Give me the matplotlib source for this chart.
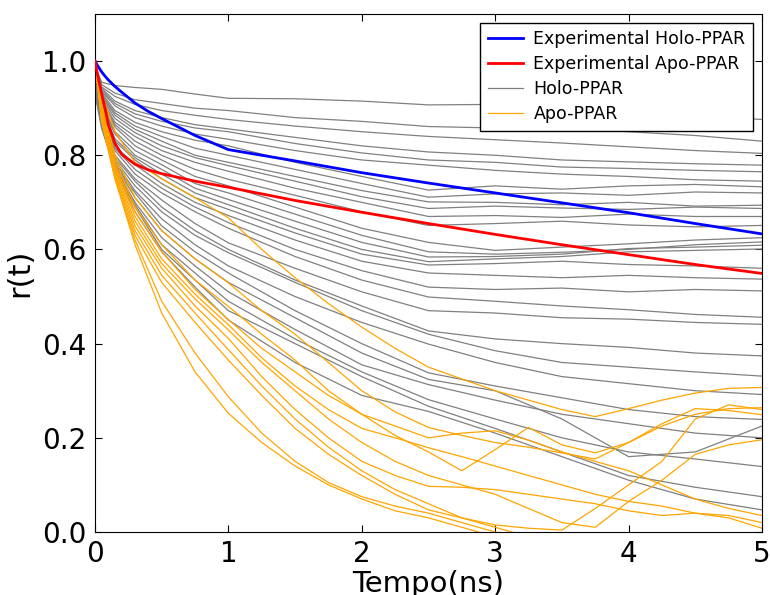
"""Fluorescence anisotropy decay r(t): experimental fits vs. simulated Holo/Apo-PPAR traces."""
import matplotlib
matplotlib.use("Agg")
import matplotlib.pyplot as plt

# time grids (ns)
T_EXP = [0, 0.02, 0.05, 0.075, 0.1, 0.15, 0.2, 0.3, 0.4, 0.5, 0.75, 1, 1.5, 2, 2.5, 3, 3.5, 4, 4.5, 5]
T_HOLO = [0, 0.05, 0.15, 0.3, 0.5, 0.75, 1, 1.5, 2, 2.5, 3, 3.5, 4, 4.5, 5]
T_APO = [0, 0.05, 0.15, 0.3, 0.5, 0.75, 1, 1.25, 1.5, 1.75, 2, 2.25, 2.5, 2.75,
         3, 3.25, 3.5, 3.75, 4, 4.25, 4.5, 4.75, 5]

exp_holo = [1.0, 0.99, 0.977, 0.968, 0.96, 0.946, 0.934, 0.911, 0.893, 0.878,
            0.842, 0.812, 0.788, 0.763, 0.741, 0.72, 0.699, 0.678, 0.655, 0.633]
exp_apo = [1.0, 0.97, 0.93, 0.90, 0.865, 0.825, 0.802, 0.781, 0.769, 0.761,
           0.745, 0.732, 0.704, 0.679, 0.655, 0.632, 0.61, 0.589, 0.568, 0.549]

holo_runs = [
    [0.99, 0.955, 0.948, 0.944, 0.940, 0.930, 0.921, 0.920, 0.915, 0.907, 0.908, 0.900, 0.893, 0.884, 0.876],
    [0.99, 0.95, 0.932, 0.918, 0.910, 0.900, 0.895, 0.880, 0.872, 0.861, 0.858, 0.860, 0.850, 0.842, 0.830],
    [0.99, 0.945, 0.925, 0.908, 0.895, 0.885, 0.876, 0.862, 0.850, 0.840, 0.833, 0.826, 0.818, 0.810, 0.804],
    [0.985, 0.942, 0.915, 0.895, 0.880, 0.865, 0.856, 0.838, 0.820, 0.807, 0.800, 0.790, 0.786, 0.782, 0.779],
    [0.985, 0.938, 0.91, 0.888, 0.872, 0.858, 0.850, 0.825, 0.805, 0.790, 0.785, 0.775, 0.772, 0.768, 0.765],
    [0.98, 0.935, 0.905, 0.88, 0.862, 0.845, 0.834, 0.81, 0.79, 0.779, 0.768, 0.760, 0.755, 0.748, 0.745],
    [0.98, 0.932, 0.895, 0.87, 0.85, 0.832, 0.82, 0.785, 0.755, 0.726, 0.735, 0.728, 0.735, 0.738, 0.733],
    [0.98, 0.928, 0.89, 0.862, 0.84, 0.815, 0.80, 0.77, 0.74, 0.711, 0.718, 0.72, 0.715, 0.722, 0.72],
    [0.975, 0.925, 0.885, 0.855, 0.83, 0.80, 0.785, 0.755, 0.725, 0.701, 0.70, 0.695, 0.70, 0.692, 0.694],
    [0.975, 0.922, 0.878, 0.848, 0.82, 0.795, 0.778, 0.745, 0.712, 0.687, 0.692, 0.688, 0.685, 0.69, 0.687],
    [0.97, 0.918, 0.87, 0.84, 0.81, 0.785, 0.766, 0.73, 0.70, 0.67, 0.672, 0.668, 0.675, 0.67, 0.67],
    [0.97, 0.915, 0.865, 0.83, 0.80, 0.77, 0.749, 0.715, 0.68, 0.651, 0.655, 0.66, 0.652, 0.648, 0.651],
    [0.97, 0.912, 0.86, 0.82, 0.79, 0.755, 0.735, 0.69, 0.645, 0.615, 0.598, 0.605, 0.612, 0.62, 0.625],
    [0.965, 0.908, 0.85, 0.81, 0.78, 0.74, 0.72, 0.675, 0.63, 0.595, 0.59, 0.594, 0.60, 0.61, 0.616],
    [0.965, 0.905, 0.845, 0.80, 0.77, 0.73, 0.706, 0.66, 0.615, 0.584, 0.585, 0.59, 0.602, 0.605, 0.609],
    [0.96, 0.902, 0.835, 0.795, 0.76, 0.72, 0.695, 0.645, 0.60, 0.574, 0.58, 0.585, 0.595, 0.598, 0.601],
    [0.96, 0.898, 0.83, 0.79, 0.75, 0.71, 0.685, 0.635, 0.59, 0.567, 0.57, 0.575, 0.568, 0.565, 0.56],
    [0.96, 0.895, 0.82, 0.78, 0.74, 0.70, 0.672, 0.62, 0.575, 0.55, 0.545, 0.54, 0.545, 0.54, 0.537],
    [0.955, 0.892, 0.815, 0.77, 0.73, 0.69, 0.657, 0.60, 0.555, 0.52, 0.515, 0.518, 0.51, 0.515, 0.512],
    [0.955, 0.89, 0.81, 0.76, 0.72, 0.68, 0.645, 0.585, 0.535, 0.499, 0.49, 0.48, 0.472, 0.462, 0.456],
    [0.95, 0.886, 0.80, 0.75, 0.705, 0.655, 0.614, 0.56, 0.51, 0.47, 0.465, 0.455, 0.452, 0.445, 0.441],
    [0.95, 0.883, 0.795, 0.745, 0.69, 0.64, 0.60, 0.535, 0.48, 0.427, 0.41, 0.40, 0.392, 0.38, 0.374],
    [0.95, 0.88, 0.79, 0.735, 0.68, 0.63, 0.593, 0.53, 0.47, 0.42, 0.385, 0.36, 0.35, 0.34, 0.331],
    [0.945, 0.877, 0.785, 0.725, 0.665, 0.61, 0.565, 0.50, 0.445, 0.399, 0.36, 0.33, 0.315, 0.30, 0.292],
    [0.945, 0.874, 0.78, 0.72, 0.65, 0.595, 0.55, 0.47, 0.40, 0.338, 0.31, 0.285, 0.26, 0.245, 0.239],
    [0.94, 0.87, 0.78, 0.71, 0.64, 0.58, 0.53, 0.455, 0.38, 0.324, 0.30, 0.24, 0.16, 0.17, 0.225],
    [0.94, 0.867, 0.775, 0.70, 0.625, 0.565, 0.51, 0.43, 0.355, 0.313, 0.28, 0.25, 0.23, 0.21, 0.20],
    [0.935, 0.864, 0.775, 0.695, 0.61, 0.55, 0.49, 0.41, 0.34, 0.281, 0.24, 0.20, 0.17, 0.155, 0.139],
    [0.935, 0.86, 0.77, 0.69, 0.60, 0.535, 0.47, 0.40, 0.33, 0.267, 0.22, 0.17, 0.12, 0.095, 0.075],
    [0.93, 0.857, 0.77, 0.68, 0.595, 0.52, 0.45, 0.36, 0.29, 0.256, 0.21, 0.16, 0.11, 0.07, 0.047],
]

apo_runs = [
    [1.0, 0.93, 0.85, 0.785, 0.75, 0.71, 0.667, 0.60, 0.54, 0.485, 0.435, 0.39, 0.35, 0.325,
     0.30, 0.28, 0.26, 0.245, 0.262, 0.28, 0.295, 0.305, 0.307],
    [1.0, 0.91, 0.80, 0.71, 0.64, 0.58, 0.529, 0.47, 0.42, 0.36, 0.30, 0.255, 0.222, 0.205,
     0.19, 0.18, 0.168, 0.155, 0.19, 0.225, 0.25, 0.262, 0.264],
    [1.0, 0.90, 0.79, 0.69, 0.61, 0.535, 0.479, 0.42, 0.365, 0.30, 0.25, 0.205, 0.17, 0.13,
     0.175, 0.222, 0.185, 0.168, 0.19, 0.23, 0.262, 0.258, 0.249],
    [1.0, 0.90, 0.78, 0.68, 0.595, 0.515, 0.451, 0.39, 0.34, 0.29, 0.25, 0.225, 0.20, 0.21,
     0.215, 0.195, 0.17, 0.15, 0.13, 0.10, 0.07, 0.05, 0.035],
    [1.0, 0.89, 0.775, 0.67, 0.58, 0.505, 0.44, 0.37, 0.31, 0.26, 0.22, 0.20, 0.179, 0.16,
     0.14, 0.12, 0.10, 0.08, 0.065, 0.055, 0.04, 0.03, 0.008],
    [1.0, 0.89, 0.77, 0.66, 0.57, 0.495, 0.429, 0.36, 0.30, 0.24, 0.19, 0.15, 0.12, 0.10,
     0.08, 0.05, 0.02, 0.01, 0.065, 0.11, 0.165, 0.185, 0.196],
    [1.0, 0.885, 0.765, 0.65, 0.56, 0.48, 0.411, 0.33, 0.26, 0.20, 0.15, 0.12, 0.097, 0.095,
     0.09, 0.08, 0.07, 0.06, 0.045, 0.035, 0.04, 0.035, 0.02],
    [1.0, 0.88, 0.76, 0.64, 0.545, 0.465, 0.387, 0.31, 0.24, 0.18, 0.13, 0.09, 0.06, 0.03,
     0.01, -0.01, -0.02, -0.03, -0.04, -0.04, -0.05, -0.05, -0.05],
    [1.0, 0.88, 0.755, 0.63, 0.53, 0.445, 0.365, 0.29, 0.22, 0.165, 0.12, 0.08, 0.047, 0.03,
     0.015, 0.008, 0.004, 0.05, 0.10, 0.15, 0.24, 0.27, 0.26],
    [1.0, 0.875, 0.75, 0.62, 0.49, 0.38, 0.287, 0.21, 0.15, 0.105, 0.075, 0.055, 0.04, 0.02,
     0.0, -0.02, -0.03, -0.04, -0.05, -0.05, -0.05, -0.05, -0.05],
    [1.0, 0.87, 0.75, 0.61, 0.465, 0.34, 0.252, 0.19, 0.14, 0.10, 0.07, 0.045, 0.03, 0.01,
     -0.01, -0.02, -0.03, -0.04, -0.05, -0.05, -0.05, -0.05, -0.05],
]

plt.rcParams.update({
    "font.family": "DejaVu Sans",
    "xtick.direction": "in",
    "ytick.direction": "in",
    "xtick.top": True,
    "ytick.right": True,
    "xtick.major.size": 5,
    "ytick.major.size": 5,
    "xtick.major.pad": 6,
    "ytick.major.pad": 6,
})

fig = plt.figure(figsize=(7.7, 5.95), dpi=100)
ax = fig.add_axes([95 / 770, 63 / 595, 667 / 770, 518 / 595])

for i, run in enumerate(holo_runs):
    ax.plot(T_HOLO, run, color="#808080", linewidth=0.9,
            label="Holo-PPAR" if i == 0 else None, zorder=2)
for i, run in enumerate(apo_runs):
    ax.plot(T_APO, run, color="#FFA500", linewidth=0.9,
            label="Apo-PPAR" if i == 0 else None, zorder=2)
ax.plot(T_EXP, exp_holo, color="#0000FF", linewidth=2, label="Experimental Holo-PPAR", zorder=3)
ax.plot(T_EXP, exp_apo, color="#FF0000", linewidth=2, label="Experimental Apo-PPAR", zorder=3)

ax.set_xlim(0, 5)
ax.set_ylim(0, 1.1)
ax.set_xticks([0, 1, 2, 3, 4, 5])
ax.set_yticks([0.0, 0.2, 0.4, 0.6, 0.8, 1.0])
ax.tick_params(labelsize=20)
ax.set_xlabel("Tempo(ns)", fontsize=21, labelpad=1)
ax.set_ylabel("r(t)", fontsize=22, labelpad=6)

handles, labels = ax.get_legend_handles_labels()
order = [labels.index(name) for name in
         ("Experimental Holo-PPAR", "Experimental Apo-PPAR", "Holo-PPAR", "Apo-PPAR")]
ax.legend([handles[k] for k in order], [labels[k] for k in order],
          loc="upper right", fontsize=12.5, fancybox=False, framealpha=1,
          edgecolor="black", borderaxespad=0.5, labelspacing=0.4,
          handlelength=2.0, handletextpad=0.6, borderpad=0.45)

fig.savefig("out.png", dpi=100)
